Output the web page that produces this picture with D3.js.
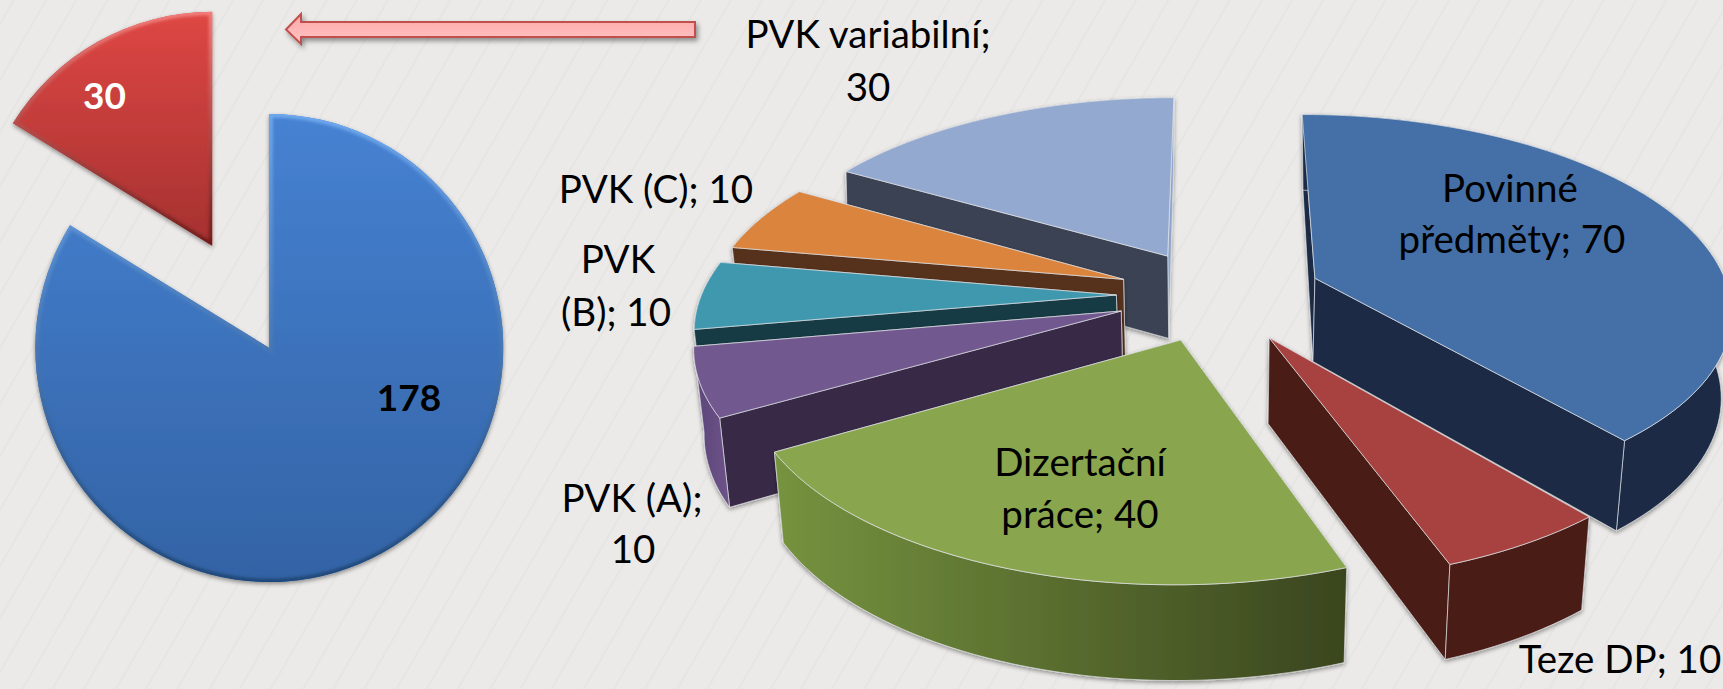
<!DOCTYPE html>
<html>
<head>
<meta charset="utf-8">
<title>PVK</title>
<script src="https://d3js.org/d3.v7.min.js"></script>
<style>
html, body { margin: 0; padding: 0; background: #ebeae8; overflow: hidden; }
text { font-family: Lato, "Open Sans", sans-serif; fill: #000; }
</style>
</head>
<body>
<script>
const svgWidth = 1723;
const svgHeight = 689;

// left pie
const smallLabels = ["178", "30"]; //Printed labels.
const smallValues = [155, 30]; //Share as drawn, the blue slice is drawn smaller than its label says.
const smallColors = [["#4682d2", "#3363a5"], ["#de4744", "#a53130"]];
const smallBevels = [["#6fa8ee", "#1f4778"], ["#f27d7a", "#6f1c1b"]];

// right pie
const categories = ["Povinné předměty", "Teze DP", "Dizertační práce", "PVK (A)", "PVK (B)", "PVK (C)", "PVK variabilní"];
const values = [70, 10, 40, 10, 10, 10, 30];
const explodes = [0.257, 0.248, 0.24, 0.24, 0.24, 0.24, 0.24]; //Share of the radius.
const drawOrder = [6, 5, 4, 3, 2, 0, 1]; //Back slices first.
const topColors = ["#4470a7", "#a74340", "#89a54e", "#71588f", "#4198af", "#db843d", "#93a9cf"];
const sideColors = ["#1a2c44", "#491c19", "#3a451e", "#392a46", "#193a45", "#57321a", "#3b4253"];
const endSideColors = ["#1a2c44", "#491c19", "#3a451e", "#392a46", "#193a45", "#57321a", "#8ea4ca"];
const arcColors = [["#1a2c44", "#1a2c44"], ["#491c19", "#491c19"], ["#76933f", "#3a451e"], ["#5b4578", "#6d5389"],
	["#193a45", "#193a45"], ["#57321a", "#57321a"], ["#3b4253", "#3b4253"]];

// text lines: label, centre x, baseline y
const labelLines = ["PVK variabilní;", "30", "PVK (C); 10", "PVK", "(B); 10", "PVK (A);", "10", "Dizertační", "práce; 40", "Povinné", "předměty; 70", "Teze DP; 10"];
const labelX = [868, 868, 656, 618, 616, 632, 633, 1080, 1080, 1510, 1512, 1620];
const labelY = [48, 101, 203, 273, 326, 512, 563, 476, 528, 202, 253, 673];

const svg = d3.select("body").append("svg")
	.attr("width", svgWidth)
	.attr("height", svgHeight)
	.style("display", "block");

const defs = svg.append("defs");

//Background with thin slanted lines.
const bgPattern = defs.append("pattern")
	.attr("id", "bgLines")
	.attr("patternUnits", "userSpaceOnUse")
	.attr("width", 81)
	.attr("height", 40)
	.attr("patternTransform", "rotate(30)");
bgPattern.append("rect").attr("width", 81).attr("height", 40).attr("fill", "#ebeae8");
[12, 40, 66].forEach(function(x) {
	bgPattern.append("line")
		.attr("x1", x).attr("x2", x).attr("y1", 0).attr("y2", 40)
		.attr("stroke", "#e0e0de").attr("stroke-width", 1);
});
svg.append("rect").attr("width", svgWidth).attr("height", svgHeight).attr("fill", "url(#bgLines)");

function addShadow(id, dx, dy, blur, opacity) {
	defs.append("filter")
		.attr("id", id)
		.attr("filterUnits", "userSpaceOnUse")
		.attr("x", -1000).attr("y", -1000).attr("width", 4000).attr("height", 3000)
		.append("feDropShadow")
		.attr("dx", dx).attr("dy", dy).attr("stdDeviation", blur)
		.attr("flood-color", "#000").attr("flood-opacity", opacity);
}
addShadow("softShadow", 0, 2, 2, 0.4);
addShadow("arrowShadow", 2, 3, 2.5, 0.4);

defs.append("filter").attr("id", "bevelBlur")
	.attr("filterUnits", "userSpaceOnUse")
	.attr("x", -1000).attr("y", -1000).attr("width", 4000).attr("height", 3000)
	.append("feGaussianBlur").attr("stdDeviation", 1.6);

function addGradient(id, horizontal, from, to) {
	const g = defs.append("linearGradient").attr("id", id)
		.attr("x1", 0).attr("y1", 0)
		.attr("x2", horizontal ? 1 : 0).attr("y2", horizontal ? 0 : 1);
	g.append("stop").attr("offset", 0).attr("stop-color", from);
	g.append("stop").attr("offset", 1).attr("stop-color", to);
}

// ---------- left pie ----------
const smallCx = 269.3;
const smallCy = 348;
const smallRadius = 234;
const smallExplode = 117; //Only the red slice is pulled out.

const smallArcs = d3.pie().sort(null)(smallValues);
const smallArc = d3.arc().innerRadius(0).outerRadius(smallRadius);
const smallPie = svg.append("g");

smallArcs.forEach(function(d, i) {
	const mid = (d.startAngle + d.endAngle) / 2;
	const shift = i === 1 ? smallExplode : 0;
	const tx = smallCx + Math.sin(mid) * shift;
	const ty = smallCy - Math.cos(mid) * shift;

	addGradient("smallFill" + i, false, smallColors[i][0], smallColors[i][1]);
	addGradient("smallBevel" + i, false, smallBevels[i][0], smallBevels[i][1]);
	defs.append("clipPath").attr("id", "smallClip" + i).append("path").attr("d", smallArc(d));

	const g = smallPie.append("g")
		.attr("transform", "translate(" + tx + "," + ty + ")")
		.attr("filter", "url(#softShadow)");
	g.append("path").attr("d", smallArc(d)).attr("fill", "url(#smallFill" + i + ")");
	g.append("g").attr("clip-path", "url(#smallClip" + i + ")")
		.append("path")
		.attr("d", smallArc(d))
		.attr("fill", "none")
		.attr("stroke", "url(#smallBevel" + i + ")")
		.attr("stroke-width", 7)
		.attr("filter", "url(#bevelBlur)");
});

svg.append("text").attr("x", 409).attr("y", 411).attr("text-anchor", "middle")
	.attr("font-size", 37).attr("font-weight", 700).text(smallLabels[0]);
svg.append("text").attr("x", 104.5).attr("y", 109).attr("text-anchor", "middle")
	.attr("font-size", 37).attr("font-weight", 700).style("fill", "#fff").text(smallLabels[1]);

// ---------- arrow from the right pie to the left one ----------
addGradient("arrowFill", false, "#ffa8a8", "#ffc4c4");
svg.append("path")
	.attr("d", "M695,22 L301,22 L301,14 L286,29.5 L301,44 L301,37 L695,37 Z")
	.attr("fill", "url(#arrowFill)")
	.attr("stroke", "#c0504d")
	.attr("stroke-width", 2)
	.attr("filter", "url(#arrowShadow)");

// ---------- right pie, a flat pie seen in perspective ----------
const pieCx = 1216;
const pieCy = 295;
const thickness = 84;

const worldX = d3.scaleLinear().domain([-1, 1]).range([-415, 415]);
const worldY = d3.scaleLinear().domain([-1, 1]).range([193, -193]);
const lowScale = d3.scaleLinear().domain([0.3, 1.1]).range([0.98, 1.01]).clamp(true); //Lower rim sits a bit closer to the centre.

function project(x, z, low) {
	const w = 1 + 0.15 * z;
	let px = worldX(x / w);
	let py = pieCy + worldY(z / w);
	if (low) {
		px = px * lowScale(z);
		py = py + thickness / (1 + 0.1 * z);
	}
	return [pieCx + px, py];
}

const line = d3.line();
const arcs = d3.pie().sort(null)(values);
const bigPie = svg.append("g");

drawOrder.forEach(function(i) {
	const d = arcs[i];
	const mid = (d.startAngle + d.endAngle) / 2;
	const ox = Math.sin(mid) * explodes[i];
	const oz = Math.cos(mid) * explodes[i];

	const steps = d3.range(0, 1.0001, 1 / Math.ceil((d.endAngle - d.startAngle) / 0.03));
	const rim = steps.map(function(t) {
		const a = d.startAngle + t * (d.endAngle - d.startAngle);
		return [ox + Math.sin(a), oz + Math.cos(a)];
	});
	const first = rim[0];
	const last = rim[rim.length - 1];

	const up = function(p) { return project(p[0], p[1], false); };
	const down = function(p) { return project(p[0], p[1], true); };

	addGradient("arcFill" + i, true, arcColors[i][0], arcColors[i][1]);

	const faces = [
		{ pts: [[ox, oz], first], fill: sideColors[i], z: (oz + first[1]) / 2 },
		{ pts: [[ox, oz], last], fill: endSideColors[i], z: (oz + last[1]) / 2 },
		{ pts: rim, fill: "url(#arcFill" + i + ")", z: d3.mean(rim, function(p) { return p[1]; }) }
	].sort(function(a, b) { return b.z - a.z; });

	const g = bigPie.append("g")
		.attr("class", "slice")
		.attr("data-name", categories[i])
		.attr("filter", "url(#softShadow)");

	faces.forEach(function(f) {
		const outline = f.pts.map(up).concat(f.pts.slice().reverse().map(down));
		g.append("path")
			.attr("d", line(outline) + "Z")
			.attr("fill", f.fill)
			.attr("stroke", "#e4e6ea")
			.attr("stroke-opacity", 0.65)
			.attr("stroke-width", 1)
			.attr("stroke-linejoin", "round");
	});

	g.append("path")
		.attr("d", line([[ox, oz]].concat(rim).map(up)) + "Z")
		.attr("fill", topColors[i])
		.attr("stroke", "#e4e6ea")
		.attr("stroke-opacity", 0.7)
		.attr("stroke-width", 1)
		.attr("stroke-linejoin", "round");
});

// ---------- labels ----------
svg.selectAll("text.label")
	.data(labelLines)
	.enter()
	.append("text")
	.attr("class", "label")
	.attr("x", function(d, i) { return labelX[i]; })
	.attr("y", function(d, i) { return labelY[i]; })
	.attr("text-anchor", "middle")
	.attr("font-size", 38.5)
	.text(function(d) { return d; });
</script>
</body>
</html>
